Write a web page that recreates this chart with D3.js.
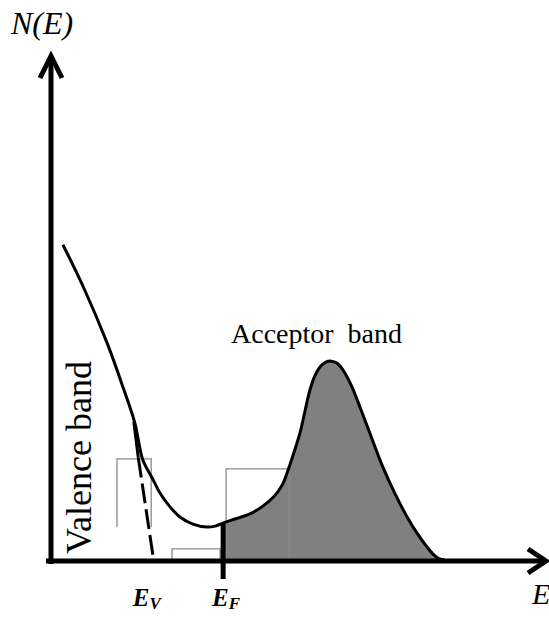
<!DOCTYPE html>
<html>
<head>
<meta charset="utf-8">
<script src="https://cdn.jsdelivr.net/npm/d3@7"></script>
<style>
  body { margin: 0; background: #fff; }
</style>
</head>
<body>
<svg id="chart" width="549" height="617"></svg>
<script>
// density of states curve (E, N(E) in arbitrary units)
const curveE = [0.24, 0.65, 1.13, 1.45, 1.69, 1.85, 2.04, 2.20, 2.40, 2.60, 2.86, 3.15, 3.31, 3.47,
                3.71, 4.01, 4.25, 4.48, 4.66, 4.78, 4.90, 5.02, 5.12, 5.22, 5.32, 5.42, 5.54, 5.65,
                5.77, 5.89, 6.05, 6.23, 6.45, 6.69, 6.94, 7.18, 7.38, 7.58, 7.70, 7.80, 7.94];
const curveN = [6.25, 5.42, 4.31, 3.44, 2.73, 2.00, 1.64, 1.34, 1.07, 0.87, 0.73, 0.67, 0.69, 0.75,
                0.83, 0.93, 1.07, 1.26, 1.50, 1.80, 2.15, 2.53, 2.96, 3.38, 3.66, 3.83, 3.93, 3.95,
                3.91, 3.77, 3.48, 3.04, 2.47, 1.86, 1.32, 0.87, 0.55, 0.28, 0.14, 0.06, 0.02];

// band edge tangent (valence band extrapolation) and Fermi level
const tangentE = [1.67, 1.76, 2.06];
const tangentN = [2.75, 2.04, 0.08];
const fermiE = 3.47;
const markerLabels = [["E", "V", 1.93], ["E", "F", 3.53]];

// thin boxes drawn on the figure: [E0, E1, N0, N1]
const boxes = [[1.33, 2.02, 0.67, 2.02], [2.44, 3.41, 0, 0.24], [3.53, 4.80, 0, 1.82]];

const serif = "'Liberation Serif', 'Times New Roman', Times, serif";
const svg = d3.select("#chart").attr("font-family", serif);
const x = d3.scaleLinear().domain([0, 10]).range([51, 547]);
const y = d3.scaleLinear().domain([0, 10]).range([561, 55]);

const pts = curveE.map((e, i) => [e, curveN[i]]);

// shaded acceptor region, from the Fermi level upwards
const area = d3.area()
  .x(d => x(d[0])).y0(y(0)).y1(d => y(d[1]))
  .curve(d3.curveCatmullRom);
svg.append("path")
  .datum(pts.filter(d => d[0] >= fermiE))
  .attr("d", area)
  .attr("fill", "#808080");

// boxes
boxes.forEach(b => {
  const open = b[2] > 0;
  const p = open
    ? `M${x(b[0])},${y(b[2])}V${y(b[3])}H${x(b[1])}V${y(b[2])}`
    : `M${x(b[0])},${y(b[2])}V${y(b[3])}H${x(b[1])}V${y(b[2])}Z`;
  svg.append("path").attr("d", p)
    .attr("fill", "none").attr("stroke", "#8a8a8a").attr("stroke-width", 1.3);
});

// tangent: solid short piece then dashed extrapolation
svg.append("line")
  .attr("x1", x(tangentE[0])).attr("y1", y(tangentN[0]))
  .attr("x2", x(tangentE[1])).attr("y2", y(tangentN[1]))
  .attr("stroke", "#000").attr("stroke-width", 3);
svg.append("line")
  .attr("x1", x(tangentE[1])).attr("y1", y(tangentN[1]))
  .attr("x2", x(tangentE[2])).attr("y2", y(tangentN[2]))
  .attr("stroke", "#000").attr("stroke-width", 3)
  .attr("stroke-dasharray", "20,6");

// main curve
const line = d3.line().x(d => x(d[0])).y(d => y(d[1])).curve(d3.curveCatmullRom);
svg.append("path").datum(pts).attr("d", line)
  .attr("fill", "none").attr("stroke", "#000").attr("stroke-width", 3);

// axes with open arrow heads
const ax = svg.append("g").attr("stroke", "#000").attr("fill", "none")
  .attr("stroke-width", 5);
ax.append("line").attr("x1", x(0)).attr("y1", y(0) + 3).attr("x2", x(0)).attr("y2", y(10) + 2);
ax.append("line").attr("x1", x(0) - 5).attr("y1", y(0)).attr("x2", x(10) - 2).attr("y2", y(0));
ax.append("polyline")
  .attr("points", `${x(0) - 11},${y(10) + 23} ${x(0)},${y(10) + 1} ${x(0) + 11},${y(10) + 23}`);
ax.append("polyline")
  .attr("points", `${x(10) - 19},${y(0) - 12} ${x(10) - 1},${y(0)} ${x(10) - 19},${y(0) + 12}`);

// Fermi level tick
svg.append("line")
  .attr("x1", x(fermiE)).attr("y1", y(curveN[curveE.indexOf(fermiE)]))
  .attr("x2", x(fermiE)).attr("y2", y(0) + 18)
  .attr("stroke", "#000").attr("stroke-width", 5);

// labels
svg.append("text").attr("x", 11).attr("y", 34)
  .attr("font-size", 32).attr("font-style", "italic").text("N(E)");
svg.append("text").attr("x", 532).attr("y", 604)
  .attr("font-size", 30).attr("font-style", "italic").text("E");

markerLabels.forEach(m => {
  const t = svg.append("text").attr("x", x(m[2])).attr("y", 606)
    .attr("text-anchor", "middle").attr("font-size", 25)
    .attr("font-weight", "bold").attr("font-style", "italic");
  t.append("tspan").text(m[0]);
  t.append("tspan").attr("font-size", 17).attr("dy", 3).text(m[1]);
});

svg.append("text").attr("x", 231).attr("y", 343)
  .attr("font-size", 28).attr("xml:space", "preserve").text("Acceptor  band");

svg.append("text").attr("transform", "translate(91,554) rotate(-90)")
  .attr("font-size", 36).text("Valence band");
</script>
</body>
</html>
